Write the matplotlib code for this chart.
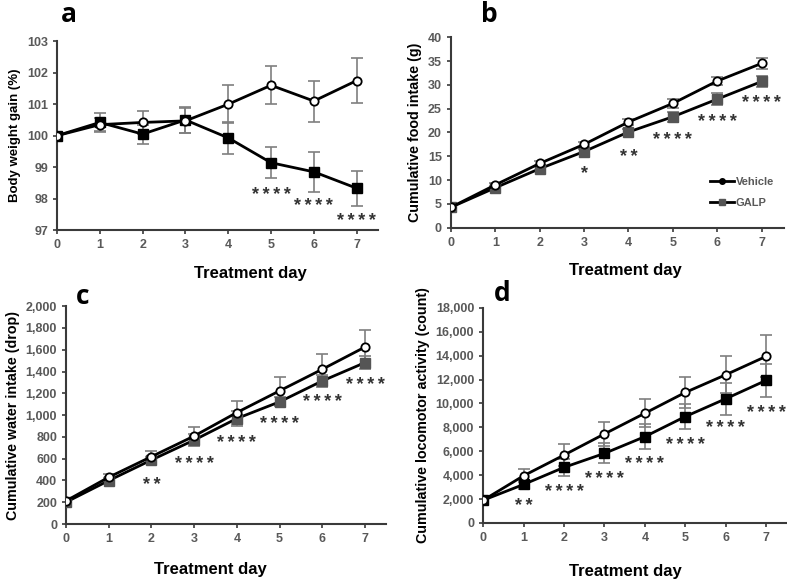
import numpy as np
import matplotlib.pyplot as plt
from matplotlib.ticker import FuncFormatter
from matplotlib.lines import Line2D

plt.rcParams['font.family'] = ['Liberation Sans', 'DejaVu Sans']

days = [0, 1, 2, 3, 4, 5, 6, 7]

# a: body weight gain (%)
bw_veh = [100.0, 100.35, 100.42, 100.47, 101.0, 101.6, 101.1, 101.75]
bw_veh_err = [0.0, 0.2, 0.37, 0.4, 0.6, 0.6, 0.65, 0.72]
bw_galp = [100.0, 100.42, 100.05, 100.5, 99.93, 99.14, 98.85, 98.33]
bw_galp_err = [0.0, 0.3, 0.3, 0.42, 0.5, 0.5, 0.64, 0.55]
bw_stars = ['', '', '', '', '', '****', '****', '****']
bw_star_y = [0, 0, 0, 0, 0, 98.2, 97.85, 97.37]

# b: cumulative food intake (g)
food_veh = [4.3, 9.0, 13.5, 17.5, 22.2, 26.1, 30.8, 34.5]
food_veh_err = [0.2, 0.4, 0.5, 0.5, 0.6, 0.9, 0.9, 1.2]
food_galp = [4.3, 8.4, 12.4, 16.0, 20.1, 23.3, 27.0, 30.7]
food_galp_err = [0.2, 0.4, 0.5, 0.5, 0.6, 1.0, 1.2, 1.2]
food_stars = ['', '', '', '*', '**', '****', '****', '****']
food_star_y = [0, 0, 0, 12.0, 15.4, 19.0, 22.7, 26.6]

# c: cumulative water intake (drop)
water_veh = [213, 430, 619, 808, 1024, 1223, 1421, 1625]
water_veh_err = [15, 30, 55, 85, 105, 130, 140, 155]
water_galp = [201, 399, 588, 771, 969, 1122, 1314, 1482]
water_galp_err = [10, 25, 30, 55, 70, 40, 55, 60]
water_stars = ['', '', '**', '****', '****', '****', '****', '****']
water_star_y = [0, 0, 381, 573, 771, 945, 1143, 1305]

# d: cumulative locomotor activity (count)
loco_veh = [1900, 3950, 5680, 7450, 9180, 10920, 12400, 13940]
loco_veh_err = [100, 560, 900, 1040, 1180, 1290, 1540, 1760]
loco_galp = [1900, 3220, 4650, 5820, 7220, 8900, 10390, 11930]
loco_galp_err = [100, 400, 700, 840, 1030, 1060, 1340, 1400]
loco_stars = ['', '**', '****', '****', '****', '****', '****', '****']
loco_star_y = [0, 1624, 2800, 3920, 5124, 6720, 8204, 9408]

tick_col = '#595959'
err_col = '#7f7f7f'
spine_col = '#3a3a3a'


def panel(ax, veh, veh_err, galp, galp_err, galp_col, ylim, ystep,
          ylabel, ylabel_size, stars, star_y, comma=False):
    ax.errorbar(days, veh, yerr=veh_err, fmt='none', ecolor=err_col,
                elinewidth=1.2, capsize=4, capthick=1.2, zorder=2)
    ax.errorbar(days, galp, yerr=galp_err, fmt='none', ecolor=err_col,
                elinewidth=1.2, capsize=4, capthick=1.2, zorder=2)
    ax.plot(days, veh, color='black', lw=2, marker='o', ms=6,
            mfc='white', mec='black', mew=1.3, zorder=4)
    ax.plot(days, galp, color='black', lw=2, marker='s', ms=7,
            mfc=galp_col, mec=galp_col, zorder=3)
    # asterisks, spaced out like the original
    off = (ylim[1] - ylim[0]) * 0.015
    for d, s, y in zip(days, stars, star_y):
        if s:
            ax.text(d, y - off, '\u2009'.join(s), ha='center', va='center',
                    fontsize=13, color='#333333', fontweight='bold')
    ax.set_xlim(0, 7.5)
    ax.set_ylim(*ylim)
    ax.set_xticks(days)
    ax.set_yticks(np.arange(ylim[0], ylim[1] + ystep / 2, ystep))
    if comma:
        ax.yaxis.set_major_formatter(FuncFormatter(lambda v, p: f'{int(v):,}'))
    for s in ['top', 'right']:
        ax.spines[s].set_visible(False)
    for s in ['left', 'bottom']:
        ax.spines[s].set_color(spine_col)
        ax.spines[s].set_linewidth(1.5)
    ax.tick_params(direction='out', length=3, width=1.2, color=spine_col,
                   labelsize=9, labelcolor=tick_col)
    for lab in ax.get_xticklabels() + ax.get_yticklabels():
        lab.set_fontweight('bold')
    ax.set_ylabel(ylabel, fontsize=ylabel_size, fontweight='bold')


fig = plt.figure(figsize=(7.87, 5.81), dpi=100)

ax_a = fig.add_axes([0.0724, 0.604, 0.408, 0.325])
ax_b = fig.add_axes([0.573, 0.608, 0.423, 0.328])
ax_c = fig.add_axes([0.0839, 0.098, 0.407, 0.375])
ax_d = fig.add_axes([0.614, 0.100, 0.385, 0.370])

panel(ax_a, bw_veh, bw_veh_err, bw_galp, bw_galp_err, 'black',
      (97, 103), 1, 'Body weight gain (%)', 9.5, bw_stars, bw_star_y)
panel(ax_b, food_veh, food_veh_err, food_galp, food_galp_err, '#555555',
      (0, 40), 5, 'Cumulative food intake (g)', 10.3, food_stars, food_star_y)
panel(ax_c, water_veh, water_veh_err, water_galp, water_galp_err, '#555555',
      (0, 2000), 200, 'Cumulative water intake (drop)', 10.3, water_stars,
      water_star_y, comma=True)
panel(ax_d, loco_veh, loco_veh_err, loco_galp, loco_galp_err, 'black',
      (0, 18000), 2000, 'Cumulative locomotor activity (count)', 10.3,
      loco_stars, loco_star_y, comma=True)

# legend in panel b: small markers, black line
handles = [Line2D([], [], color='black', lw=2, marker='o', ms=4, mfc='black'),
           Line2D([], [], color='black', lw=2, marker='s', ms=4,
                  mfc='#555555', mec='#555555')]
ax_b.legend(handles, ['Vehicle', 'GALP'], loc='lower right',
            bbox_to_anchor=(1.0, 0.05), frameon=False, handlelength=2.2,
            handletextpad=0.1, labelspacing=1.0,
            prop={'size': 8, 'weight': 'bold'}, labelcolor=tick_col)

# x axis titles sit well below each panel
for x, y in [(0.318, 0.530), (0.795, 0.535), (0.267, 0.019), (0.795, 0.016)]:
    fig.text(x, y, 'Treatment day', fontsize=12, fontweight='bold',
             ha='center', va='center')

for letter, x, y in [('a', 0.088, 0.975), ('b', 0.622, 0.975),
                     ('c', 0.105, 0.49), ('d', 0.638, 0.495)]:
    fig.text(x, y, letter, fontsize=19, fontweight='bold', ha='center',
             va='center', family=['Open Sans', 'DejaVu Sans'])

fig.savefig('out.png', dpi=100)
